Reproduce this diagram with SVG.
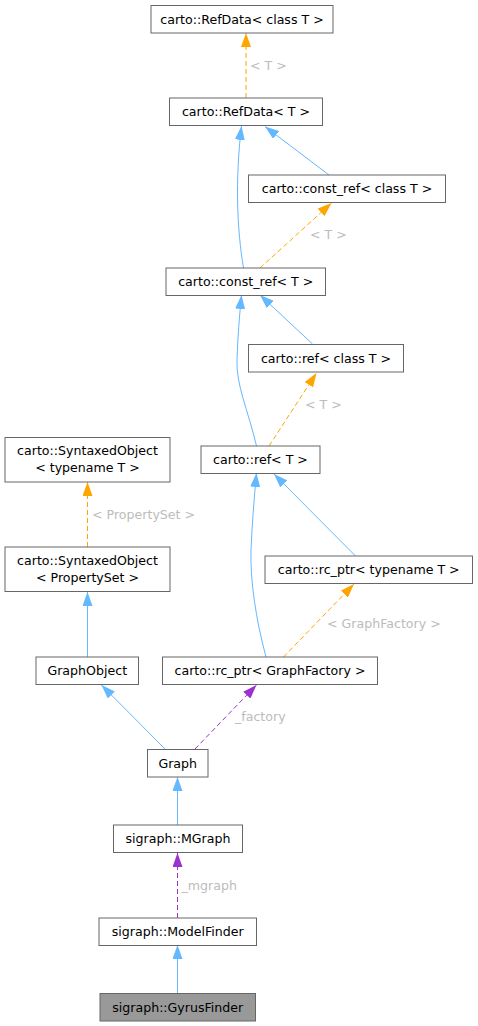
<svg xmlns="http://www.w3.org/2000/svg" width="478" height="1026" viewBox="0 0 478 1026">
<style>
.n rect{fill:#ffffff;stroke:#666666;stroke-width:1}
.n text{font-family:"DejaVu Sans",sans-serif;font-size:12.6px;fill:#000000;text-anchor:middle}
.hl rect{fill:#999999}
.e path{fill:none;stroke-width:1}
.b{stroke:#63b8ff}
.o{stroke:#ffa500;stroke-dasharray:5,3}
.p{stroke:#9a32cd;stroke-dasharray:5,3}
.lbl{font-family:"DejaVu Sans",sans-serif;font-size:12.6px;fill:#bcbcbc}
</style>
<defs>
<marker id="ab" viewBox="0 0 14 10" refX="14" refY="5" markerWidth="14" markerHeight="10" markerUnits="userSpaceOnUse" orient="auto"><path d="M0,0 L14,5 L0,10 z" fill="#63b8ff"/></marker>
<marker id="ao" viewBox="0 0 14 10" refX="14" refY="5" markerWidth="14" markerHeight="10" markerUnits="userSpaceOnUse" orient="auto"><path d="M0,0 L14,5 L0,10 z" fill="#ffa500"/></marker>
<marker id="ap" viewBox="0 0 14 10" refX="14" refY="5" markerWidth="14" markerHeight="10" markerUnits="userSpaceOnUse" orient="auto"><path d="M0,0 L14,5 L0,10 z" fill="#9a32cd"/></marker>
</defs>
<rect width="478" height="1026" fill="#ffffff"/>
<g id="edges" class="e">
<path class="o" d="M246,98 L246,33" marker-end="url(#ao)"/>
<path class="b" d="M243.5,268 C237,230 235,180 241.5,126" marker-end="url(#ab)"/>
<path class="b" d="M329,175 L265,126.5" marker-end="url(#ab)"/>
<path class="o" d="M260,268 L331.5,203" marker-end="url(#ao)"/>
<path class="b" d="M256.5,446 C248,410 236,385 237,360 C237.5,340 239.5,315 241.5,295" marker-end="url(#ab)"/>
<path class="b" d="M312.5,344 L260,295" marker-end="url(#ab)"/>
<path class="o" d="M269,446 L316.5,373" marker-end="url(#ao)"/>
<path class="b" d="M266,657 C256,620 250,580 251,550 C252,525 254,500 256.5,473" marker-end="url(#ab)"/>
<path class="b" d="M355.5,556 L274,474" marker-end="url(#ab)"/>
<path class="o" d="M283.5,657 L354,584" marker-end="url(#ao)"/>
<path class="o" d="M87.5,547 L87.5,482" marker-end="url(#ao)"/>
<path class="b" d="M87.5,657 L87.5,592" marker-end="url(#ab)"/>
<path class="b" d="M165,749 L101.5,685" marker-end="url(#ab)"/>
<path class="p" d="M195,749 L256.5,685" marker-end="url(#ap)"/>
<path class="b" d="M177.5,825 L177.5,777" marker-end="url(#ab)"/>
<path class="p" d="M177.5,918 L177.5,853" marker-end="url(#ap)"/>
<path class="b" d="M177.5,993 L177.5,945" marker-end="url(#ab)"/>
<text class="lbl" x="250" y="69.5">&lt; T &gt;</text>
<text class="lbl" x="310" y="238.5">&lt; T &gt;</text>
<text class="lbl" x="305" y="408.5">&lt; T &gt;</text>
<text class="lbl" x="92" y="519">&lt; PropertySet &gt;</text>
<text class="lbl" x="327" y="627.5">&lt; GraphFactory &gt;</text>
<text class="lbl" x="235" y="721">_factory</text>
<text class="lbl" x="181.5" y="889.5">_mgraph</text>
</g>
<g id="n_refdata_class" class="n"><rect x="151" y="5.5" width="182" height="27.5"/><text x="242" y="23.5">carto::RefData&lt; class T &gt;</text></g>
<g id="n_refdata" class="n"><rect x="169.5" y="98" width="153" height="27.5"/><text x="246" y="116">carto::RefData&lt; T &gt;</text></g>
<g id="n_constref_class" class="n"><rect x="248.5" y="175" width="197" height="27.5"/><text x="347" y="193">carto::const_ref&lt; class T &gt;</text></g>
<g id="n_constref" class="n"><rect x="166" y="268" width="159.5" height="27.5"/><text x="245.75" y="286">carto::const_ref&lt; T &gt;</text></g>
<g id="n_ref_class" class="n"><rect x="248.5" y="344.5" width="155" height="27.5"/><text x="326" y="362.5">carto::ref&lt; class T &gt;</text></g>
<g id="n_ref" class="n"><rect x="201" y="446" width="119" height="27.5"/><text x="260.5" y="464">carto::ref&lt; T &gt;</text></g>
<g id="n_so_t" class="n"><rect x="5" y="437.5" width="165" height="44.5"/><text x="87.5" y="455">carto::SyntaxedObject</text><text x="87.5" y="472">&lt; typename T &gt;</text></g>
<g id="n_so_ps" class="n"><rect x="5" y="547" width="165" height="44.5"/><text x="87.5" y="564.5">carto::SyntaxedObject</text><text x="87.5" y="581.5">&lt; PropertySet &gt;</text></g>
<g id="n_rcptr_t" class="n"><rect x="265" y="556" width="207.5" height="27.5"/><text x="368.75" y="574">carto::rc_ptr&lt; typename T &gt;</text></g>
<g id="n_rcptr_gf" class="n"><rect x="162.5" y="657" width="215" height="27.5"/><text x="270" y="675">carto::rc_ptr&lt; GraphFactory &gt;</text></g>
<g id="n_graphobject" class="n"><rect x="36" y="657" width="102.5" height="27.5"/><text x="87.25" y="675">GraphObject</text></g>
<g id="n_graph" class="n"><rect x="147.5" y="749.5" width="60.5" height="27.5"/><text x="177.75" y="767.5">Graph</text></g>
<g id="n_mgraph" class="n"><rect x="113.5" y="825" width="129" height="27.5"/><text x="178" y="843">sigraph::MGraph</text></g>
<g id="n_modelfinder" class="n"><rect x="99" y="918" width="157.5" height="27.5"/><text x="177.75" y="936">sigraph::ModelFinder</text></g>
<g id="n_gyrusfinder" class="n hl"><rect x="100" y="993.5" width="155.5" height="27.5"/><text x="177.75" y="1011.5">sigraph::GyrusFinder</text></g>
</svg>
